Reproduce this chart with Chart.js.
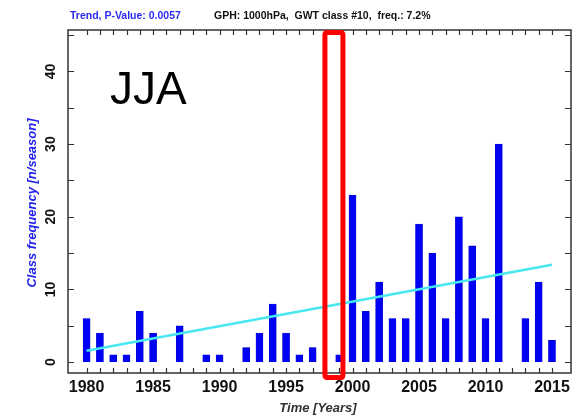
<!DOCTYPE html>
<html>
<head>
<meta charset="utf-8">
<script src="https://cdn.jsdelivr.net/npm/chart.js@4"></script>
<style>
  html, body { margin: 0; padding: 0; background: #fff; }
  canvas { display: block; }
</style>
</head>
<body>
<canvas id="chart" width="585" height="417"></canvas>
<script>
const years = [1980,1981,1982,1983,1984,1985,1986,1987,1988,1989,
               1990,1991,1992,1993,1994,1995,1996,1997,1998,1999,
               2000,2001,2002,2003,2004,2005,2006,2007,2008,2009,
               2010,2011,2012,2013,2014,2015]
const counts = [6,4,1,1,7,4,0,5,0,1,
                1,0,2,4,8,4,1,2,0,1,
                23,7,11,6,6,19,15,6,20,16,
                6,30,0,6,11,3]
const trendYears = [1980, 2015]
const trendValues = [1.55, 13.4]
const xLabelYears = [1980,1985,1990,1995,2000,2005,2010,2015]
const yLabelValues = [0,10,20,30,40]
const yTickValues = [0,5,10,15,20,25,30,35,40,45]
const highlightYear = 1998.6

const titleLeft = 'Trend, P-Value: 0.0057'
const titleRight = 'GPH: 1000hPa,  GWT class #10,  freq.: 7.2%'
const seasonLabel = 'JJA'

const font = '"Liberation Sans", Arial, sans-serif'

// axes, ticks, labels and annotations drawn on top of the plot
const frame = {
    id: 'frame',
    afterDraw(chart){
        const ctx = chart.ctx
        const x = chart.scales.x
        const y = chart.scales.y
        const a = chart.chartArea
        ctx.save()

        // box
        ctx.strokeStyle = '#333'
        ctx.lineWidth = 1.5
        ctx.strokeRect(a.left, a.top, a.right - a.left, a.bottom - a.top)

        // year ticks top + bottom
        ctx.lineWidth = 1.2
        ctx.beginPath()
        years.forEach(yr=>{
            const px = Math.round(x.getPixelForValue(yr)) + 0.5
            ctx.moveTo(px, a.bottom); ctx.lineTo(px, a.bottom - 5)
            ctx.moveTo(px, a.top); ctx.lineTo(px, a.top + 5)
        })
        // value ticks left + right
        yTickValues.forEach(v=>{
            const py = Math.round(y.getPixelForValue(v)) + 0.5
            ctx.moveTo(a.left, py); ctx.lineTo(a.left + 6, py)
            ctx.moveTo(a.right, py); ctx.lineTo(a.right - 6, py)
        })
        ctx.stroke()

        // x labels
        ctx.fillStyle = '#111'
        ctx.font = 'bold 16px ' + font
        ctx.textAlign = 'center'
        ctx.textBaseline = 'middle'
        xLabelYears.forEach(yr=>{
            ctx.fillText(String(yr), x.getPixelForValue(yr), 388)
        })

        // y labels (rotated)
        ctx.font = 'bold 14px ' + font
        yLabelValues.forEach(v=>{
            ctx.save()
            ctx.translate(51, y.getPixelForValue(v))
            ctx.rotate(-Math.PI/2)
            ctx.fillText(String(v), 0, 0)
            ctx.restore()
        })

        // axis titles
        ctx.fillStyle = '#2222ee'
        ctx.font = 'italic bold 13px ' + font
        ctx.save()
        ctx.translate(32, 203)
        ctx.rotate(-Math.PI/2)
        ctx.fillText('Class frequency [n/season]', 0, 0)
        ctx.restore()

        ctx.fillStyle = '#333'
        ctx.fillText('Time [Years]', 318, 408)

        // header
        ctx.font = 'bold 10.5px ' + font
        ctx.textAlign = 'left'
        ctx.fillStyle = '#2a2af0'
        ctx.fillText(titleLeft, 70, 16)
        ctx.fillStyle = '#111'
        ctx.fillText(titleRight, 214, 16)

        // season label
        ctx.font = '46px ' + font
        ctx.fillStyle = '#000'
        ctx.textBaseline = 'alphabetic'
        ctx.fillText(seasonLabel, 110, 104)

        // red highlight box
        const cx = x.getPixelForValue(highlightYear)
        ctx.strokeStyle = '#ff0000'
        ctx.lineWidth = 5
        ctx.lineJoin = 'round'
        ctx.beginPath()
        ctx.roundRect(cx - 9, a.top + 2.5, 18, a.bottom - a.top + 2, 2)
        ctx.stroke()

        ctx.restore()
    }
}

new Chart(document.getElementById('chart'), {
    type: 'bar',
    data: {
        datasets: [{
            type: 'bar',
            data: years.map((yr,i)=>({x: yr, y: counts[i]})),
            backgroundColor: '#0000f5',
            borderColor: '#0000c0',
            borderWidth: 0.5,
            barThickness: 7,
            order: 2
        },{
            type: 'line',
            data: trendYears.map((yr,i)=>({x: yr, y: trendValues[i]})),
            borderColor: '#48e8f0',
            borderWidth: 2.5,
            pointRadius: 0,
            fill: false,
            order: 1
        }]
    },
    options: {
        responsive: false,
        animation: false,
        devicePixelRatio: 1,
        layout: { padding: { left: 68, right: 14, top: 30, bottom: 44 } },
        plugins: { legend: { display: false }, tooltip: { enabled: false } },
        scales: {
            x: { type: 'linear', display: false, offset: false, min: 1978.6, max: 2016.43 },
            y: { type: 'linear', display: false, min: -1.5, max: 45.7 }
        }
    },
    plugins: [frame]
});
</script>
</body>
</html>
